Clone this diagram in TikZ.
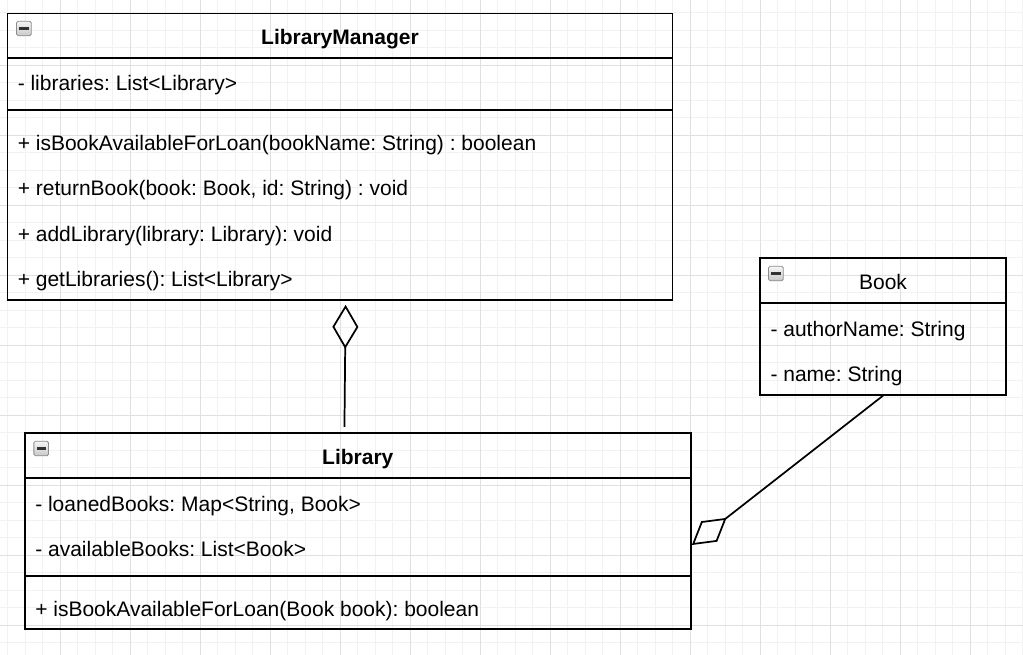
\documentclass[tikz,border=0pt]{standalone}
\usepackage{fontspec}
\setmainfont{Liberation Sans}
\usetikzlibrary{arrows.meta,calc,fit}
\frenchspacing
\definecolor{gridminor}{RGB}{242,242,242}
\definecolor{gridmajor}{RGB}{224,224,224}
\definecolor{iconborder}{RGB}{140,140,140}
\definecolor{icontop}{RGB}{246,246,246}
\definecolor{iconbottom}{RGB}{200,200,200}
\definecolor{iconbarcol}{RGB}{50,50,50}
\begin{document}
\frenchspacing
\begin{tikzpicture}[x=0.75pt,y=-0.75pt,
  box/.style={draw=black, line width=1.3pt, inner sep=0pt},
  sepline/.style={draw=black, line width=1.3pt},
  txt/.style={anchor=base west, inner sep=0pt, font=\fontsize{15.75pt}{18pt}\selectfont},
  titletxt/.style={anchor=base, inner sep=0pt, font=\fontsize{15.75pt}{18pt}\selectfont\bfseries},
  plaintitle/.style={anchor=base, inner sep=0pt, font=\fontsize{15.75pt}{18pt}\selectfont},
  icon/.style={draw=iconborder, line width=0.6pt, rounded corners=1.2pt, minimum size=11pt, inner sep=0pt, top color=icontop, bottom color=iconbottom},
  iconbar/.style={fill=iconbarcol, minimum width=7pt, minimum height=1.8pt, inner sep=0pt},
  agg/.style={draw=black, line width=1.3pt, {Diamond[open, length=33pt, width=19.5pt]}-}
]
% background and grid
\useasboundingbox (0,0) rectangle (1023,655);
\fill[white] (0,0) rectangle (1023,655);
\foreach \x in {7.8,25.3,...,1023} \draw[gridminor, line width=0.75pt] (\x,0) -- (\x,655);
\foreach \y in {12.8,30.3,...,655} \draw[gridminor, line width=0.75pt] (0,\y) -- (1023,\y);
\foreach \x in {60.3,130.3,...,1023} \draw[gridmajor, line width=0.75pt] (\x,0) -- (\x,655);
\foreach \y in {65.3,135.3,...,655} \draw[gridmajor, line width=0.75pt] (0,\y) -- (1023,\y);

% LibraryManager
\node[box, fit={(7.5,13.5) (672.5,300)}] (lm) {};
\draw[sepline] ($(lm.north west)+(0,45.5)$) -- ($(lm.north east)+(0,45.5)$);
\draw[sepline] ($(lm.north west)+(0,97.5)$) -- ($(lm.north east)+(0,97.5)$);
\node[icon] (lmIcon) at (23.9,28.5) {};
\node[iconbar] (lmBar) at (lmIcon) {};
\node[titletxt] (lmTitle) at (340,44.5) {LibraryManager};
\node[txt] (lmA1) at (17.5,90.8) {- libraries: List<Library>};
\node[txt] (lmM1) at (17.5,150.3) {+ isBookAvailableForLoan(bookName: String) : boolean};
\node[txt] (lmM2) at (17.5,195.8) {+ returnBook(book: Book, id: String) : void};
\node[txt] (lmM3) at (17.5,241.3) {+ addLibrary(library: Library): void};
\node[txt] (lmM4) at (17.5,286.8) {+ getLibraries(): List<Library>};

% Library
\node[box, fit={(25,433.3) (690.7,629.3)}] (lib) {};
\draw[sepline] ($(lib.north west)+(0,45.5)$) -- ($(lib.north east)+(0,45.5)$);
\draw[sepline] ($(lib.north west)+(0,143.5)$) -- ($(lib.north east)+(0,143.5)$);
\node[icon] (libIcon) at (41.2,448.5) {};
\node[iconbar] (libBar) at (libIcon) {};
\node[titletxt] (libTitle) at (357.8,464.3) {Library};
\node[txt] (libA1) at (35,511.3) {- loanedBooks: Map<String, Book>};
\node[txt] (libA2) at (35,556.8) {- availableBooks: List<Book>};
\node[txt] (libM1) at (35,616.3) {+ isBookAvailableForLoan(Book book): boolean};

% Book
\node[box, fit={(760.3,258.3) (1005.7,394.8)}] (book) {};
\draw[sepline] ($(book.north west)+(0,45.5)$) -- ($(book.north east)+(0,45.5)$);
\node[icon] (bookIcon) at (775.9,273.5) {};
\node[iconbar] (bookBar) at (bookIcon) {};
\node[plaintitle] (bookTitle) at (883,289.3) {Book};
\node[txt] (bookA1) at (770.3,336.3) {- authorName: String};
\node[txt] (bookA2) at (770.3,381.8) {- name: String};

% connectors
\coordinate (aggLM) at ($(lm.south)+(5.6,4)$);
\coordinate (aggLibTop) at ($(lib.north)+(-13.4,-5.6)$);
\draw[agg] (aggLM) -- (aggLibTop);
\coordinate (aggLibSide) at ($(lib.east)+(0.3,13.7)$);
\draw[agg] (aggLibSide) -- (book.south);
\end{tikzpicture}
\end{document}
